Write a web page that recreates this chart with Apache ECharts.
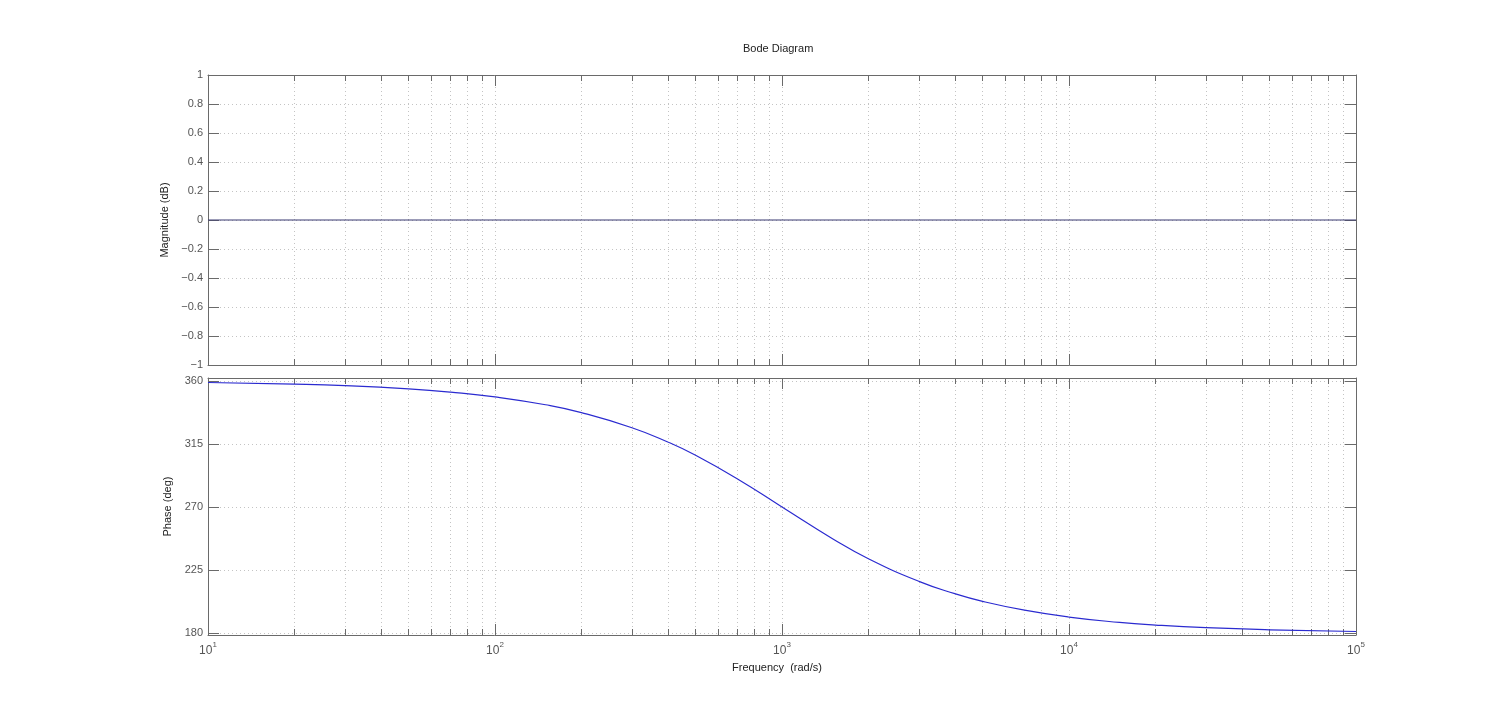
<!DOCTYPE html>
<html>
<head>
<meta charset="utf-8">
<script src="https://cdn.jsdelivr.net/npm/echarts@6/dist/echarts.min.js"></script>
<style>html,body{margin:0;padding:0;background:#fff}#c{width:1500px;height:715px}</style>
</head>
<body>
<div id="c"></div>
<script>
// Data
const freq = [10, 20, 30, 50, 70, 100, 150, 200, 300, 400, 500, 700, 1000, 1500, 2000, 3000, 4000, 5000, 7000, 10000, 15000, 20000, 30000, 50000, 100000];
const phaseDeg = [358.9, 357.7, 356.6, 354.3, 352.0, 348.6, 343.0, 337.4, 326.6, 316.4, 306.9, 290.0, 270.0, 247.4, 233.1, 216.9, 208.1, 202.6, 196.3, 191.4, 187.6, 185.7, 183.8, 182.3, 181.1];
const magDb = [0, 0, 0, 0, 0, 0, 0, 0, 0, 0, 0, 0, 0, 0, 0, 0, 0, 0, 0, 0, 0, 0, 0, 0, 0];
const phaseTicks = [180, 225, 270, 315, 360];
const titleText = 'Bode Diagram';

const FONT = 'Liberation Sans';
const AXC = '#6a6a6a';
const GRIDC = '#c4c4c4';
const LBLC = '#555';

function xAx(gridIndex, pos, withLabels, name) {
  return {
    type: 'log', logBase: 10, gridIndex: gridIndex, position: pos,
    min: 10, max: 100000,
    axisLine: {show: true, onZero: false, lineStyle: {color: AXC, width: 1}},
    axisTick: {show: true, inside: true, length: 11, lineStyle: {color: AXC}},
    minorTick: {show: true, splitNumber: 9, length: 6, lineStyle: {color: AXC}},
    splitLine: {show: pos === 'bottom', lineStyle: {color: GRIDC, type: [1, 3], width: 1}},
    minorSplitLine: {show: pos === 'bottom', lineStyle: {color: GRIDC, type: [1, 3], width: 1}},
    axisLabel: {
      show: withLabels, margin: 6, color: LBLC, fontFamily: FONT, fontSize: 12,
      formatter: function (v) { return '10{sup|' + Math.round(Math.log10(v)) + '}'; },
      rich: {sup: {fontSize: 8, fontFamily: FONT, color: LBLC, padding: [0, 0, 11, 0]}}
    },
    name: name || '', nameLocation: 'middle', nameGap: 27,
    nameTextStyle: {color: '#222', fontFamily: FONT, fontSize: 11, padding: [0, 10, 0, 0]}
  };
}

function magLabel(v) {
  const r = Math.round(v * 10) / 10;
  return String(r).replace('-', '\u2212');
}

const option = {
  backgroundColor: '#fff',
  animation: false,
  title: {text: titleText, left: 738, top: 38, textStyle: {fontFamily: FONT, fontSize: 11, fontWeight: 'normal', color: '#222'}},
  grid: [
    {left: 208, right: 144, top: 75, height: 290, containLabel: false},
    {left: 208, right: 144, top: 378, height: 257, containLabel: false}
  ],
  xAxis: [
    xAx(0, 'bottom', false),
    xAx(0, 'top', false),
    xAx(1, 'bottom', true, 'Frequency  (rad/s)'),
    xAx(1, 'top', false)
  ],
  yAxis: [
    {
      type: 'value', gridIndex: 0, position: 'left', min: -1, max: 1, interval: 0.2,
      axisLine: {show: true, onZero: false, lineStyle: {color: AXC}},
      axisTick: {show: true, inside: true, length: 11, lineStyle: {color: AXC}},
      splitLine: {show: true, lineStyle: {color: GRIDC, type: [1, 3]}},
      axisLabel: {color: LBLC, fontFamily: FONT, fontSize: 11, margin: 5, formatter: magLabel},
      name: 'Magnitude (dB)', nameLocation: 'middle', nameGap: 31,
      nameTextStyle: {color: '#222', fontFamily: FONT, fontSize: 11}
    },
    {
      type: 'value', gridIndex: 0, position: 'right', min: -1, max: 1, interval: 0.2,
      axisLine: {show: true, onZero: false, lineStyle: {color: AXC}},
      axisTick: {show: true, inside: true, length: 11, lineStyle: {color: AXC}},
      splitLine: {show: false}, axisLabel: {show: false}
    },
    {
      type: 'value', gridIndex: 1, position: 'left', min: 178.6, max: 362.1,
      axisLine: {show: true, onZero: false, lineStyle: {color: AXC}},
      axisTick: {show: true, inside: true, length: 11, lineStyle: {color: AXC}, customValues: phaseTicks},
      splitLine: {show: true, lineStyle: {color: GRIDC, type: [1, 3]}},
      axisLabel: {color: LBLC, fontFamily: FONT, fontSize: 11, margin: 5, customValues: phaseTicks},
      name: 'Phase (deg)', nameLocation: 'middle', nameGap: 30,
      nameTextStyle: {color: '#222', fontFamily: FONT, fontSize: 11}
    },
    {
      type: 'value', gridIndex: 1, position: 'right', min: 178.6, max: 362.1,
      axisLine: {show: true, onZero: false, lineStyle: {color: AXC}},
      axisTick: {show: true, inside: true, length: 11, lineStyle: {color: AXC}, customValues: phaseTicks},
      splitLine: {show: false}, axisLabel: {show: false, customValues: phaseTicks}
    }
  ],
  series: [
    {
      type: 'line', xAxisIndex: 0, yAxisIndex: 0, showSymbol: false, smooth: false,
      data: freq.map((f, i) => [f, magDb[i]]),
      lineStyle: {color: '#3a3a72', width: 1.2}
    },
    {
      type: 'line', xAxisIndex: 2, yAxisIndex: 2, showSymbol: false, smooth: true,
      data: freq.map((f, i) => [f, phaseDeg[i]]),
      lineStyle: {color: '#2b2bd0', width: 1.2}
    }
  ]
};

const chart = echarts.init(document.getElementById('c'), null, {renderer: 'canvas'});
chart.setOption(option);
</script>
</body>
</html>
